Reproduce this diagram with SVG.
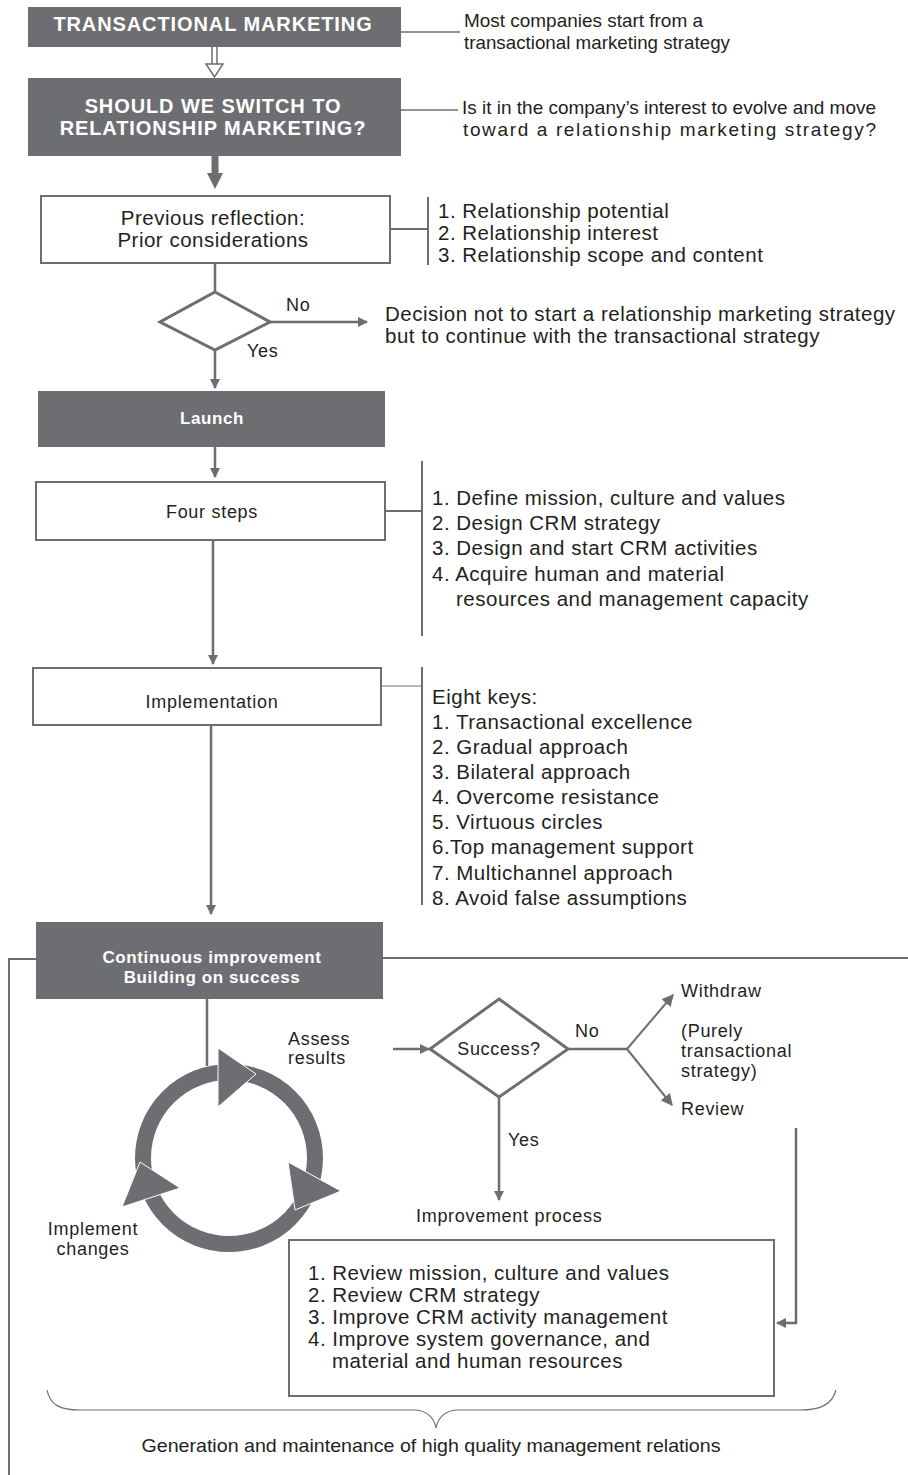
<svg xmlns="http://www.w3.org/2000/svg" width="908" height="1475" viewBox="0 0 908 1475">
<defs>
<marker id="ah" viewBox="0 0 10 10" refX="9" refY="5" markerWidth="4.2" markerHeight="4.2" orient="auto" markerUnits="strokeWidth">
<path d="M0,0 L10,5 L0,10 Z" fill="#6d6e71"/>
</marker>
<marker id="ahs" viewBox="0 0 10 10" refX="9" refY="5" markerWidth="6" markerHeight="6" orient="auto" markerUnits="strokeWidth">
<path d="M0,0 L10,5 L0,10 Z" fill="#6d6e71"/>
</marker>
<style>
.dark{fill:#6d6e71;}
.box{fill:#fff;stroke:#6d6e71;stroke-width:2;}
.ln{fill:none;stroke:#6d6e71;stroke-width:2.5;}
.thin{fill:none;stroke:#6d6e71;stroke-width:1.5;}
.wt{font-family:"Liberation Sans",Arial,sans-serif;font-weight:bold;fill:#fff;text-anchor:middle;}
.big{font-size:20px;letter-spacing:0.9px;}
.med{font-size:17px;letter-spacing:0.6px;}
.t{font-family:"Liberation Sans",Arial,sans-serif;fill:#231f20;font-size:20.5px;letter-spacing:0.5px;}
.s{font-family:"Liberation Sans",Arial,sans-serif;fill:#231f20;font-size:18px;letter-spacing:0.7px;}
.n{font-family:"Liberation Sans",Arial,sans-serif;fill:#231f20;font-size:19px;}
.c{text-anchor:middle;}
</style>
</defs>

<g id="connectors">
<path d="M212,40 V64 M217,40 V64" class="thin"/>
<path d="M206,64 H223 L214.5,77 Z" fill="#fff" stroke="#6d6e71" stroke-width="1.5"/>
<rect x="211.5" y="156" width="7" height="18" class="dark"/>
<path d="M207,173 H223 L215,189 Z" class="dark"/>
<path d="M401,32 H460" class="thin"/>
<path d="M401,110 H458" class="thin"/>
<path d="M390,229 H428 M428,197 V265" class="ln" style="stroke-width:2"/>
<path d="M385,511 H422 M422,461 V636" class="ln" style="stroke-width:2"/>
<path d="M381,686 H422" class="thin" style="stroke-width:1.2"/>
<path d="M422,667 V905" class="ln" style="stroke-width:2"/>
<path d="M215,263 V292" class="ln"/>
<path d="M270,322 H367" class="ln" marker-end="url(#ah)"/>
<path d="M215,350 V388" class="ln" marker-end="url(#ah)"/>
<path d="M215,447 V477" class="ln" marker-end="url(#ah)"/>
<path d="M213,540 V664" class="ln" marker-end="url(#ah)"/>
<path d="M211,725 V914" class="ln" marker-end="url(#ah)"/>
<path d="M36,959 H9 V1475" class="ln" style="stroke-width:2"/>
<path d="M383,958 H908" class="ln" style="stroke-width:2"/>
<path d="M207,999 V1066" class="ln"/>
<path d="M393,1049 H429" class="ln" marker-end="url(#ah)"/>
<path d="M568,1049 H627" class="ln"/>
<path d="M627,1049 L673,995" class="ln" style="stroke-width:2" marker-end="url(#ahs)"/>
<path d="M627,1049 L672,1105" class="ln" style="stroke-width:2" marker-end="url(#ahs)"/>
<path d="M499,1097 V1200" class="ln" marker-end="url(#ah)"/>
<path d="M796,1128 V1323 H777" class="ln" marker-end="url(#ah)"/>
</g>

<g id="n-transactional">
<rect x="28" y="7" width="373" height="40" class="dark"/>
<text x="213" y="31" class="wt big">TRANSACTIONAL MARKETING</text>
</g>
<g id="n-transactional-note">
<text x="464" y="27" class="n" textLength="239" lengthAdjust="spacingAndGlyphs">Most companies start from a</text>
<text x="464" y="49" class="n" textLength="266" lengthAdjust="spacingAndGlyphs">transactional marketing strategy</text>
</g>

<g id="n-switch">
<rect x="28" y="78" width="373" height="78" class="dark"/>
<text x="213" y="113" class="wt big">SHOULD WE SWITCH TO</text>
<text x="213" y="135" class="wt big">RELATIONSHIP MARKETING?</text>
</g>
<g id="n-switch-note">
<text x="462" y="114" class="n" textLength="414" lengthAdjust="spacingAndGlyphs">Is it in the company’s interest to evolve and move</text>
<text x="463" y="136" class="n" textLength="413" lengthAdjust="spacing">toward a relationship marketing strategy?</text>
</g>

<g id="n-reflection">
<rect x="41" y="196" width="349" height="67" class="box"/>
<text x="213" y="225" class="t c">Previous reflection:</text>
<text x="213" y="247" class="t c">Prior considerations</text>
</g>
<g id="n-reflection-list">
<text x="438" y="218" class="t">1. Relationship potential</text>
<text x="438" y="240" class="t">2. Relationship interest</text>
<text x="438" y="262" class="t">3. Relationship scope and content</text>
</g>

<g id="n-decision1">
<path d="M215,292 L270,322 L215,350 L160,322 Z" fill="#fff" stroke="#6d6e71" stroke-width="3"/>
<text x="286" y="311" class="s">No</text>
<text x="247" y="357" class="s">Yes</text>
</g>
<g id="n-decision-no">
<text x="385" y="321" class="t">Decision not to start a relationship marketing strategy</text>
<text x="385" y="343" class="t">but to continue with the transactional strategy</text>
</g>

<g id="n-launch">
<rect x="38" y="391" width="347" height="56" class="dark"/>
<text x="212" y="424" class="wt med">Launch</text>
</g>

<g id="n-four-steps">
<rect x="36" y="482" width="349" height="58" class="box"/>
<text x="212" y="518" class="s c">Four steps</text>
</g>
<g id="n-four-steps-list">
<text x="432" y="505" class="t">1. Define mission, culture and values</text>
<text x="432" y="530" class="t">2. Design CRM strategy</text>
<text x="432" y="555" class="t">3. Design and start CRM activities</text>
<text x="432" y="581" class="t">4. Acquire human and material</text>
<text x="456" y="606" class="t">resources and management capacity</text>
</g>

<g id="n-implementation">
<rect x="33" y="668" width="348" height="57" class="box"/>
<text x="212" y="708" class="s c">Implementation</text>
</g>
<g id="n-eight-keys">
<text x="432" y="704" class="t">Eight keys:</text>
<text x="432" y="729" class="t">1. Transactional excellence</text>
<text x="432" y="754" class="t">2. Gradual approach</text>
<text x="432" y="779" class="t">3. Bilateral approach</text>
<text x="432" y="804" class="t">4. Overcome resistance</text>
<text x="432" y="829" class="t">5. Virtuous circles</text>
<text x="432" y="854" class="t">6.Top management support</text>
<text x="432" y="880" class="t">7. Multichannel approach</text>
<text x="432" y="905" class="t">8. Avoid false assumptions</text>
</g>

<g id="n-continuous">
<rect x="36" y="922" width="347" height="77" class="dark"/>
<text x="212" y="963" class="wt med">Continuous improvement</text>
<text x="212" y="983" class="wt med">Building on success</text>
</g>

<g id="n-cycle">
<circle cx="229" cy="1158" r="86" fill="none" stroke="#6d6e71" stroke-width="16"/>
<path d="M218,1048 L256,1074 L218,1107 Z" class="dark" stroke="#fff" stroke-width="1"/>
<path d="M288,1162 L341,1191 L295,1210 Z" class="dark" stroke="#fff" stroke-width="1"/>
<path d="M140,1162 L180,1188 L122,1207 Z" class="dark" stroke="#fff" stroke-width="1"/>
<text x="288" y="1045" class="s">Assess</text>
<text x="288" y="1064" class="s">results</text>
<text x="93" y="1235" class="s c">Implement</text>
<text x="93" y="1255" class="s c">changes</text>
</g>

<g id="n-success">
<path d="M499,999 L568,1049 L499,1097 L430,1049 Z" fill="#fff" stroke="#6d6e71" stroke-width="3"/>
<text x="499" y="1055" class="s c">Success?</text>
<text x="575" y="1037" class="s">No</text>
<text x="508" y="1146" class="s">Yes</text>
</g>
<g id="n-withdraw">
<text x="681" y="997" class="s">Withdraw</text>
<text x="681" y="1037" class="s">(Purely</text>
<text x="681" y="1057" class="s">transactional</text>
<text x="681" y="1077" class="s">strategy)</text>
</g>
<g id="n-review">
<text x="681" y="1115" class="s">Review</text>
</g>

<g id="n-improvement">
<text x="416" y="1222" class="s">Improvement process</text>
<rect x="289" y="1240" width="485" height="156" class="box"/>
<text x="308" y="1280" class="t">1. Review mission, culture and values</text>
<text x="308" y="1302" class="t">2. Review CRM strategy</text>
<text x="308" y="1324" class="t">3. Improve CRM activity management</text>
<text x="308" y="1346" class="t">4. Improve system governance, and</text>
<text x="332" y="1368" class="t">material and human resources</text>
</g>

<g id="n-brace">
<path d="M47,1390 C50,1405 60,1410 80,1410 H415 C428,1411 434,1418 436,1428 C438,1418 444,1411 457,1410 H800 C820,1410 832,1405 836,1390" fill="none" stroke="#6d6e71" stroke-width="1.2"/>
<text x="431" y="1452" class="n c" font-size="17" textLength="579" lengthAdjust="spacingAndGlyphs">Generation and maintenance of high quality management relations</text>
</g>
</svg>
